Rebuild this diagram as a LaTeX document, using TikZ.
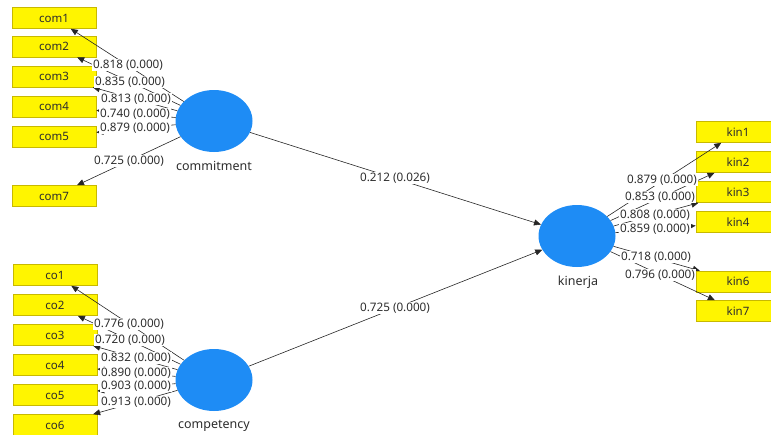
\documentclass[tikz,border=0pt]{standalone}
\usepackage{fontspec}
\setmainfont{Noto Sans}
\usetikzlibrary{arrows.meta,shapes.geometric}
\definecolor{boxyellow}{RGB}{255,245,0}
\definecolor{boxedge}{RGB}{200,185,0}
\definecolor{lvblue}{RGB}{30,140,245}
\definecolor{txtgray}{RGB}{45,45,45}
\tikzset{
  ind/.style={draw=boxedge, line width=0.6pt, fill=boxyellow, minimum width=84pt, minimum height=21pt, inner sep=0pt, font=\fontsize{11.5}{12}\selectfont, text=txtgray},
  lv/.style={ellipse, fill=lvblue, minimum width=77pt, minimum height=62pt, inner sep=0pt},
  lvname/.style={font=\fontsize{12.5}{13}\selectfont, text=txtgray},
  lbl/.style={fill=white, inner sep=0.6pt, font=\fontsize{11.7}{12}\selectfont, text=txtgray},
  con/.style={draw=black!85, line width=0.6pt, -{Triangle[length=7pt,width=6pt]}}
}
\begin{document}
\begin{tikzpicture}[x=1pt,y=-1pt]
\useasboundingbox (0,0) rectangle (771,434);
% latent variables
\node[lv] (commitment) at (214,121) {};
\node[lv] (competency) at (214,380) {};
\node[lv] (kinerja) at (577,236) {};
\node[lvname] (commitmentname) at (214,166) {commitment};
\node[lvname] (competencyname) at (214,426) {competency};
\node[lvname] (kinerjaname) at (578,282) {kinerja};
% indicators commitment
\node[ind] (com1) at (54,18) {com1};
\node[ind] (com2) at (54,46.5) {com2};
\node[ind] (com3) at (54,76.5) {com3};
\node[ind] (com4) at (54,106.5) {com4};
\node[ind] (com5) at (54,136.5) {com5};
\node[ind] (com7) at (54,196) {com7};
% indicators competency
\node[ind] (co1) at (55,275) {co1};
\node[ind] (co2) at (55,305) {co2};
\node[ind] (co3) at (55,335) {co3};
\node[ind] (co4) at (55,365) {co4};
\node[ind] (co5) at (55,395) {co5};
\node[ind] (co6) at (55,425) {co6};
% indicators kinerja
\node[ind] (kin1) at (738,132) {kin1};
\node[ind] (kin2) at (738,162) {kin2};
\node[ind] (kin3) at (738,192) {kin3};
\node[ind] (kin4) at (738,222) {kin4};
\node[ind] (kin6) at (738,281.5) {kin6};
\node[ind] (kin7) at (738,311) {kin7};
% connectors
\foreach \i in {com1,com2,com3,com4,com5,com7} \draw[con] (commitment) -- (\i);
\foreach \i in {co1,co2,co3,co4,co5,co6} \draw[con] (competency) -- (\i);
\foreach \i in {kin1,kin2,kin3,kin4,kin6,kin7} \draw[con] (kinerja) -- (\i);
\draw[con] (commitment) -- (kinerja);
\draw[con] (competency) -- (kinerja);
% labels
\node[lbl] (lcom1) at (128,65) {0.818 (0.000)};
\node[lbl] (lcom2) at (130,82) {0.835 (0.000)};
\node[lbl] (lcom3) at (136,99) {0.813 (0.000)};
\node[lbl] (lcom4) at (135,114) {0.740 (0.000)};
\node[lbl] (lcom5) at (135,128) {0.879 (0.000)};
\node[lbl] (lcom7) at (129,161) {0.725 (0.000)};
\node[lbl] (lco1) at (129,324) {0.776 (0.000)};
\node[lbl] (lco2) at (130,340) {0.720 (0.000)};
\node[lbl] (lco3) at (136,358) {0.832 (0.000)};
\node[lbl] (lco4) at (136,373) {0.890 (0.000)};
\node[lbl] (lco5) at (136,386) {0.903 (0.000)};
\node[lbl] (lco6) at (136,402) {0.913 (0.000)};
\node[lbl] (lkin1) at (662,180) {0.879 (0.000)};
\node[lbl] (lkin2) at (660,197) {0.853 (0.000)};
\node[lbl] (lkin3) at (655,215) {0.808 (0.000)};
\node[lbl] (lkin4) at (655,229) {0.859 (0.000)};
\node[lbl] (lkin6) at (656,257) {0.718 (0.000)};
\node[lbl] (lkin7) at (660,275) {0.796 (0.000)};
\node[lbl] (lcommit) at (395,178) {0.212 (0.026)};
\node[lbl] (lcompet) at (395,308) {0.725 (0.000)};
\end{tikzpicture}
\end{document}
